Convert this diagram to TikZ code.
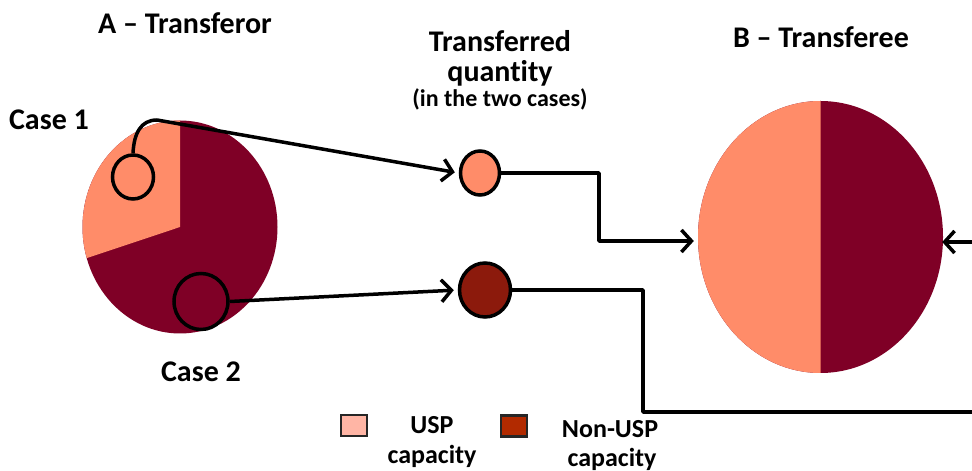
\documentclass[tikz,border=0pt]{standalone}
\usepackage{fontspec}
\setmainfont[Ligatures=NoCommon]{Carlito}
\usetikzlibrary{arrows.meta,shapes.geometric}
\definecolor{usp}{HTML}{FF8C69}
\definecolor{nonusp}{HTML}{7F0026}
\definecolor{tqdark}{HTML}{8C1A0C}
\definecolor{legl}{HTML}{FFB5A5}
\definecolor{legd}{HTML}{B22A00}
\begin{document}
\begin{tikzpicture}[x=1pt,y=1pt,
  title/.style={font=\fontsize{30}{33}\selectfont\bfseries, inner sep=0, align=center},
  small/.style={font=\fontsize{24}{28}\selectfont\bfseries, inner sep=0},
  legtxt/.style={font=\fontsize{26}{30}\selectfont\bfseries, inner sep=0},
  ring/.style={ellipse, draw=black, line width=3.5pt, inner sep=0},
  line/.style={draw=black, line width=3.5pt, line join=round},
  conn/.style={line, -{Straight Barb[length=10pt,width=22pt,line width=3.5pt]}, shorten >=4pt},
  pie/.style={ellipse, inner sep=0},
  legbox/.style={draw=black!85, line width=2.5pt, minimum width=26pt, minimum height=21pt, inner sep=0}
]
\useasboundingbox[fill=white] (0,0) rectangle (972,471);

% Pie A
\fill[nonusp] (180,244) ellipse[x radius=97.5, y radius=106.5];
\fill[usp] (180,244) -- (180,350.5) arc[start angle=90, end angle=197, x radius=97.5, y radius=106.5] -- cycle;
\node[pie, minimum width=195, minimum height=213] (pieA) at (180,244) {};

% Pie B
\fill[nonusp] (820.5,234) ellipse[x radius=122.5, y radius=136];
\fill[usp] (820.5,370) arc[start angle=90, end angle=270, x radius=122.5, y radius=136] -- cycle;
\node[pie, minimum width=245, minimum height=272] (pieB) at (820.5,234) {};

% small circles
\node[ring, fill=usp, minimum width=41, minimum height=44] (c1) at (133,294) {};
\node[ring, fill=nonusp, minimum width=54, minimum height=56] (c2) at (201,169.5) {};
\node[ring, fill=usp, minimum width=39, minimum height=44] (tq1) at (480,298) {};
\node[ring, fill=tqdark, minimum width=51, minimum height=54] (tq2) at (485,181) {};

% coordinates
\coordinate (k1) at (157,351);
\coordinate (bend1) at (599,230);
\coordinate (bend2) at (643,59);
\coordinate (out2) at (975,59);
\coordinate (in2) at (975,229);

% connectors
\draw[conn] (c1.north) .. controls (134,338) and (141,351) .. (k1) -- (tq1.west);
\draw[conn] (c2.east) -- (tq2.west);
\draw[conn] (tq1.east) -| (bend1) -- (pieB.west |- bend1);
\draw[line] (tq2.east) -| (bend2) -- (out2);
\draw[conn, shorten >=-1pt] (in2) -- (pieB.east |- in2);

% texts
\node[title] (tA) at (185,448) {A – Transferor};
\node[title] (tB) at (821,434) {B – Transferee};
\node[title] (case1) at (49,351) {Case 1};
\node[title] (case2) at (201,99) {Case 2};
\node[title] (tq) at (500,413) {Transferred\\[-3pt]quantity};
\node[small] (tqs) at (500,372) {(in the two cases)};

% legend
\node[legbox, fill=legl] (lg1) at (354,45.5) {};
\node[legtxt] (lt1a) at (432,46) {USP};
\node[legtxt] (lt1b) at (432,15) {capacity};
\node[legbox, fill=legd] (lg2) at (514,45) {};
\node[legtxt] (lt2a) at (610,42) {Non-USP};
\node[legtxt] (lt2b) at (612,12) {capacity};
\end{tikzpicture}
\end{document}
